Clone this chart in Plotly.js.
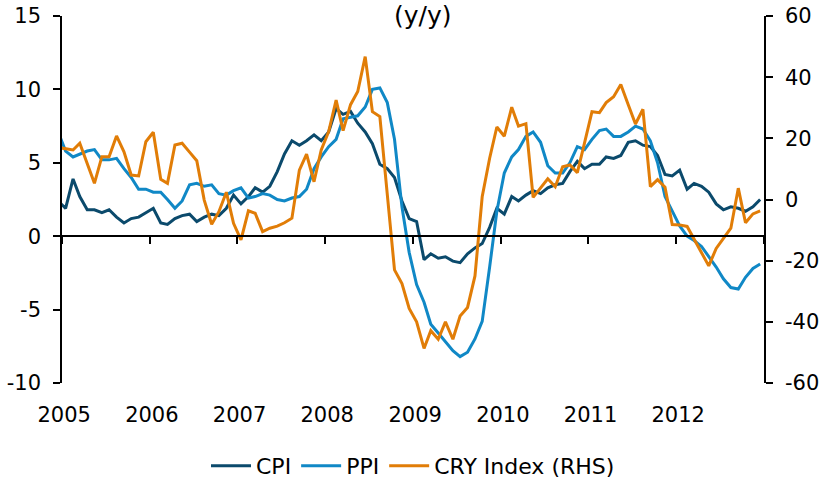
<!DOCTYPE html>
<html><head><meta charset="utf-8">
<script src="https://cdn.plot.ly/plotly-3.0.1.min.js"></script>
<style>html,body{margin:0;padding:0;background:#fff;}#chart{width:821px;height:481px;}</style>
</head><body><div id="chart"></div>
<script>
// Monthly observations, Dec 2004 .. Dec 2012 (first point sits just left of the axis and is clipped)
const startYear = 2004, startMonth = 12, nMonths = 97;
const months = [];
for (let i = 0; i < nMonths; i++) {
  const t = startMonth - 1 + i;
  const y = startYear + Math.floor(t / 12), m = (t % 12) + 1;
  months.push(y + '-' + String(m).padStart(2, '0') + '-16');
}

const cpi = [2.4,
  1.9, 3.9, 2.7, 1.8, 1.8, 1.6, 1.8, 1.3, 0.9, 1.2, 1.3, 1.6,
  1.9, 0.9, 0.8, 1.2, 1.4, 1.5, 1.0, 1.3, 1.5, 1.4, 1.9, 2.8,
  2.2, 2.7, 3.3, 3.0, 3.4, 4.4, 5.6, 6.5, 6.2, 6.5, 6.9, 6.5,
  7.1, 8.7, 8.3, 8.5, 7.7, 7.1, 6.3, 4.9, 4.6, 4.0, 2.4, 1.2,
  1.0, -1.6, -1.2, -1.5, -1.4, -1.7, -1.8, -1.2, -0.8, -0.5, 0.6, 1.9,
  1.5, 2.7, 2.4, 2.8, 3.1, 2.9, 3.3, 3.5, 3.6, 4.4, 5.1, 4.6,
  4.9, 4.9, 5.4, 5.3, 5.5, 6.4, 6.5, 6.2, 6.1, 5.5, 4.2, 4.1,
  4.5, 3.2, 3.6, 3.4, 3.0, 2.2, 1.8, 2.0, 1.9, 1.7, 2.0, 2.5];

const ppi = [7.1,
  5.8, 5.4, 5.6, 5.8, 5.9, 5.2, 5.2, 5.3, 4.6, 4.0, 3.2, 3.2,
  3.0, 3.0, 2.5, 1.9, 2.4, 3.5, 3.6, 3.4, 3.5, 2.9, 2.8, 3.1,
  3.3, 2.6, 2.7, 2.9, 2.8, 2.5, 2.4, 2.6, 2.7, 3.2, 4.6, 5.4,
  6.1, 6.6, 8.0, 8.1, 8.2, 8.8, 10.0, 10.1, 9.1, 6.6, 2.0, -1.1,
  -3.3, -4.5, -6.0, -6.6, -7.2, -7.8, -8.2, -7.9, -7.0, -5.8, -2.1, 1.7,
  4.3, 5.4, 5.9, 6.8, 7.1, 6.4, 4.8, 4.3, 4.3, 5.0, 6.1, 5.9,
  6.6, 7.2, 7.3, 6.8, 6.8, 7.1, 7.5, 7.3, 6.5, 5.0, 2.7, 1.7,
  0.7, 0.0, -0.3, -0.7, -1.4, -2.1, -2.9, -3.5, -3.6, -2.8, -2.2, -1.9];

const cry = [17,
  16.5, 16.2, 18.4, 11.5, 5.3, 14, 14, 20.8, 15.6, 8, 7.7, 18.9,
  22, 6.6, 5.3, 17.8, 18.4, 15.5, 12.7, -0.2, -8.1, -4, 2.4, -7.8,
  -13.2, -3.7, -4.5, -10.5, -9.4, -8.7, -7.6, -6.1, 9.6, 14.8, 5.8, 16.2,
  22.2, 32.5, 22.5, 31, 35.3, 46.7, 28.7, 27.1, 2, -23, -27.5, -35.6,
  -40, -48.7, -42.9, -45.7, -40, -45.7, -38.1, -35.3, -25, 0.9, 13.5, 23.7,
  20.7, 30.2, 24, 24.8, 0.7, 4, 6.8, 4.2, 10.7, 11.3, 8.8, 18.5,
  28.7, 28.4, 31.7, 33.6, 37.6, 31, 24.7, 29.5, 4.2, 6.5, 4, -8.2,
  -8.3, -8.8, -13, -17.3, -21.7, -16, -12.7, -9.4, 3.7, -7.6, -4.7, -3.7];

const yearLabels = ['2005', '2006', '2007', '2008', '2009', '2010', '2011', '2012'];
const yearLabelPos = yearLabels.map(y => y + '-01-10');
const yearTicks = ['2005','2006','2007','2008','2009','2010','2011','2012','2013'].map(y => y + '-01-01');
const leftTicks = [-10, -5, 0, 5, 10, 15];
const leftText = ['-10', '-5', '0', '5', '10', '15'];
const rightTicks = [-60, -40, -20, 0, 20, 40, 60];
const rightText = ['-60', '-40', '-20', '0', '20', '40', '60'];

const FONT = 'DejaVu Sans, Verdana, sans-serif';

const traces = [
  {x: months, y: cpi, name: 'CPI', type: 'scatter', mode: 'lines',
   line: {color: '#0b4a6c', width: 3}, xaxis: 'x', yaxis: 'y'},
  {x: months, y: ppi, name: 'PPI', type: 'scatter', mode: 'lines',
   line: {color: '#1088c6', width: 3}, xaxis: 'x', yaxis: 'y'},
  {x: months, y: cry, name: 'CRY Index (RHS)', type: 'scatter', mode: 'lines',
   line: {color: '#e17d07', width: 3}, xaxis: 'x2', yaxis: 'y2'}
];

const layout = {
  width: 821, height: 481,
  margin: {l: 62, r: 57, t: 16, b: 98, autoexpand: false},
  paper_bgcolor: '#fff', plot_bgcolor: 'rgba(0,0,0,0)',
  font: {family: FONT, size: 21, color: '#000'},
  showlegend: true,
  title: {text: '(y/y)', font: {family: FONT, size: 25, color: '#000'},
          x: 0.514, xref: 'paper', xanchor: 'center', y: 0.968, yref: 'container', yanchor: 'middle'},
  legend: {orientation: 'h', x: 0.5, xanchor: 'center', y: -0.226, yanchor: 'middle',
           font: {family: FONT, size: 22, color: '#000'}, traceorder: 'normal', itemwidth: 40},
  xaxis: {type: 'date', range: ['2005-01-01', '2013-01-01'], showgrid: false, zeroline: false,
          showline: false, ticks: '', tickmode: 'array', tickvals: yearLabelPos, ticktext: yearLabels,
          ticklabelstandoff: 17, tickfont: {family: FONT, size: 21, color: '#000'}},
  xaxis2: {type: 'date', overlaying: 'x', matches: 'x', anchor: 'free', position: 0.4,
           range: ['2005-01-01', '2013-01-01'], showgrid: false, zeroline: false,
           showline: true, linecolor: '#000', linewidth: 1.5, ticks: 'outside', ticklen: 7,
           tickwidth: 1.5, tickcolor: '#000', tickmode: 'array', tickvals: yearTicks, showticklabels: false},
  yaxis: {range: [-10, 15], tickmode: 'array', tickvals: leftTicks, ticktext: leftText,
          showgrid: false, zeroline: false,
          showline: true, linecolor: '#000', linewidth: 1.5, ticks: 'outside', ticklen: 7, tickwidth: 1.5,
          tickcolor: '#000', ticklabelstandoff: 8, tickfont: {family: FONT, size: 21, color: '#000'}},
  yaxis2: {range: [-60, 60], overlaying: 'y', side: 'right', anchor: 'x', tickmode: 'array',
           tickvals: rightTicks, ticktext: rightText,
           showgrid: false, zeroline: false, showline: true, linecolor: '#000', linewidth: 1.5,
           ticks: 'outside', ticklen: 7, tickwidth: 1.5, tickcolor: '#000', ticklabelstandoff: 8,
           tickfont: {family: FONT, size: 21, color: '#000'}}
};

Plotly.newPlot('chart', traces, layout, {displayModeBar: false, responsive: false});
</script>
</body></html>
